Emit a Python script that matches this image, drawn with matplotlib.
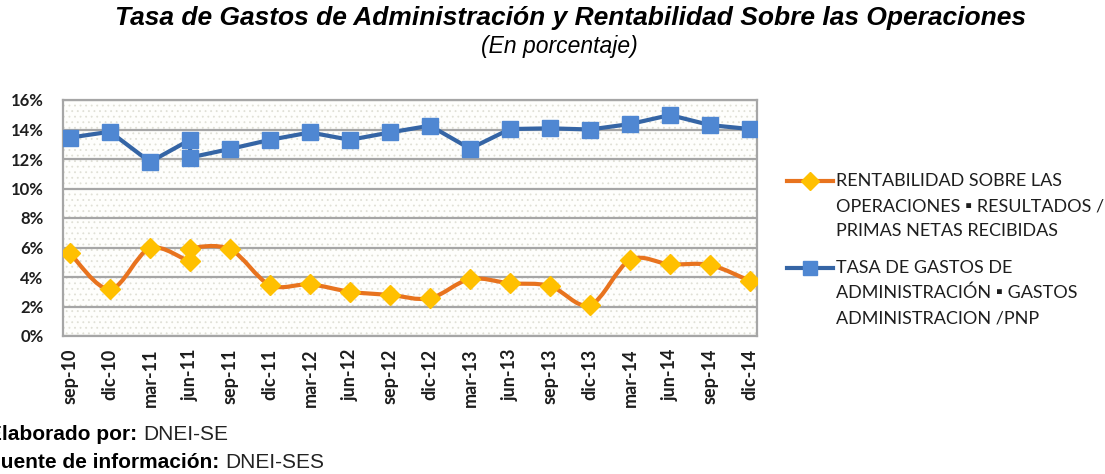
import numpy as np
import matplotlib
matplotlib.use("Agg")
import matplotlib.pyplot as plt
from matplotlib.path import Path
from matplotlib.patches import PathPatch, Rectangle
from matplotlib.lines import Line2D

# quarter labels shown on the x axis
categories = ['sep-10', 'dic-10', 'mar-11', 'jun-11', 'sep-11', 'dic-11',
              'mar-12', 'jun-12', 'sep-12', 'dic-12', 'mar-13', 'jun-13',
              'sep-13', 'dic-13', 'mar-14', 'jun-14', 'sep-14', 'dic-14']

# jun-11 appears twice in the source series
periods = ['sep-10', 'dic-10', 'mar-11', 'jun-11', 'jun-11', 'sep-11', 'dic-11',
           'mar-12', 'jun-12', 'sep-12', 'dic-12', 'mar-13', 'jun-13',
           'sep-13', 'dic-13', 'mar-14', 'jun-14', 'sep-14', 'dic-14']

gastos = [13.45, 13.85, 11.8, 13.3, 12.1, 12.68, 13.3, 13.8, 13.3, 13.8,
          14.26, 12.7, 14.03, 14.08, 14.0, 14.37, 14.98, 14.3, 14.03]
rentabilidad = [5.6, 3.17, 5.95, 5.08, 5.9, 5.88, 3.46, 3.5, 3.0, 2.78,
                2.56, 3.86, 3.57, 3.39, 2.1, 5.15, 4.86, 4.81, 3.73]

yticks = [0, 2, 4, 6, 8, 10, 12, 14, 16]

label_rent = ['RENTABILIDAD SOBRE LAS', 'OPERACIONES \u25aa RESULTADOS /',
              'PRIMAS NETAS RECIBIDAS']
label_gastos = ['TASA DE GASTOS DE', 'ADMINISTRACI\u00d3N \u25aa GASTOS',
                'ADMINISTRACION /PNP']

ORANGE = '#E8731E'
GOLD = '#FFC000'
BLUE_LINE = '#3565A5'
BLUE_MARK = '#4F87D2'
GRID = '#A6A6A6'
TEXT = '#1E1E1E'


def smooth_path(xs, ys):
    # Excel-like smoothed line: Catmull-Rom segments as cubic beziers
    pts = np.column_stack([xs, ys]).astype(float)
    n = len(pts)
    verts = [pts[0]]
    codes = [Path.MOVETO]
    for i in range(n - 1):
        p0 = pts[i - 1] if i > 0 else pts[i]
        p1 = pts[i]
        p2 = pts[i + 1]
        p3 = pts[i + 2] if i + 2 < n else pts[i + 1]
        c1 = p1 + (p2 - p0) / 6.0
        c2 = p2 - (p3 - p1) / 6.0
        verts += [c1, c2, p2]
        codes += [Path.CURVE4] * 3
    return Path(verts, codes)


plt.rcParams['hatch.linewidth'] = 0.6

fig = plt.figure(figsize=(11.05, 4.74), dpi=100)
ax = fig.add_axes([63 / 1105, 1 - 336 / 474, (757 - 63) / 1105, (336 - 100) / 474])

x = np.array([categories.index(p) for p in periods])

# dotted plot area fill
ax.add_patch(Rectangle((0, 0), 1, 1, transform=ax.transAxes, facecolor='#FEFEFC',
                       edgecolor='#E0E0D6', lw=0, hatch='...', zorder=0))

for v in yticks:
    ax.axhline(v, color=GRID, lw=1.6, zorder=1)

ax.add_patch(PathPatch(smooth_path(x, rentabilidad), fill=False, edgecolor=ORANGE,
                       lw=3.0, capstyle='round', joinstyle='round', zorder=3))
ax.plot(x, rentabilidad, linestyle='none', marker='D', markersize=10,
        markerfacecolor=GOLD, markeredgecolor=GOLD, zorder=4)

ax.plot(x, gastos, color=BLUE_LINE, lw=3.0, marker='s', markersize=11.5,
        markerfacecolor=BLUE_MARK, markeredgecolor=BLUE_MARK, zorder=5,
        solid_joinstyle='round')

ax.set_xlim(-0.175, len(categories) - 1 + 0.175)
ax.set_ylim(0, 16)
ax.set_yticks(yticks)
ax.set_yticklabels([f'{v}%' for v in yticks])
ax.set_xticks(range(len(categories)))
ax.set_xticklabels(categories, rotation=90)
ax.tick_params(length=0)
ax.tick_params(axis='y', pad=14)
ax.tick_params(axis='x', pad=9)
for lab in ax.get_yticklabels():
    lab.set_fontfamily('Lato')
    lab.set_fontweight('bold')
    lab.set_fontsize(12)
    lab.set_color(TEXT)
for lab in ax.get_xticklabels():
    lab.set_fontfamily('Lato')
    lab.set_fontweight('bold')
    lab.set_fontsize(13)
    lab.set_color(TEXT)
for sp in ax.spines.values():
    sp.set_color(GRID)
    sp.set_linewidth(1.6)

# titles
fig.text(570 / 1105, 1 - 18 / 474, 'Tasa de Gastos de Administración y Rentabilidad Sobre las Operaciones',
         ha='center', va='center', fontsize=19, fontweight='bold', fontstyle='italic',
         family='Liberation Sans', color='black')
fig.text(559 / 1105, 1 - 47 / 474, '(En porcentaje)', ha='center', va='center', fontsize=16.5,
         fontstyle='italic', family='Liberation Sans', color='black')

# legend drawn by hand so the key sits on the first line of each label
fam = ['Lato', 'DejaVu Sans']
for y0, lines, lc, mk, mc, ms in [(181, label_rent, ORANGE, 'D', GOLD, 9),
                                  (268, label_gastos, BLUE_LINE, 's', BLUE_MARK, 10.5)]:
    yf = 1 - y0 / 474
    fig.add_artist(Line2D([787 / 1105, 833 / 1105], [yf, yf], transform=fig.transFigure,
                          color=lc, lw=3.0))
    fig.add_artist(Line2D([810 / 1105], [yf], transform=fig.transFigure, marker=mk,
                          markersize=ms, markerfacecolor=mc, markeredgecolor=mc))
    for k, t in enumerate(lines):
        fig.text(836 / 1105, 1 - (y0 + 25 * k) / 474, t, ha='left', va='center',
                 fontsize=13, family=fam, color=TEXT)

# source notes, first letter falls off the left edge as in the original
fig.canvas.draw()
for y0, bold, rest in [(435, 'Elaborado por: ', 'DNEI-SE'),
                       (462, 'Fuente de información: ', 'DNEI-SES')]:
    t = fig.text(-12 / 1105, 1 - y0 / 474, bold, ha='left', va='center', fontsize=15,
                 fontweight='bold', family='Liberation Sans', color='black')
    bb = t.get_window_extent(renderer=fig.canvas.get_renderer())
    fig.text(bb.x1 / fig.dpi / 11.05, 1 - y0 / 474, rest, ha='left', va='center',
             fontsize=15, family='Liberation Sans', color='#222222')

fig.savefig('out.png', dpi=100)
